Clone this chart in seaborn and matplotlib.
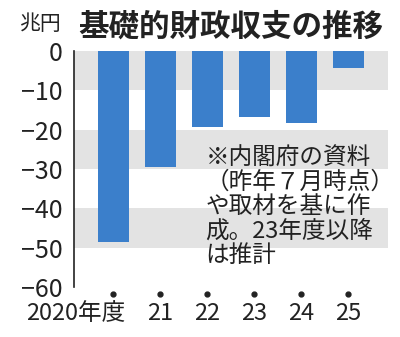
import matplotlib
matplotlib.use("Agg")
import matplotlib.pyplot as plt
import matplotlib.transforms as mtransforms
import seaborn as sns
import pandas as pd

# Primary balance (trillion yen), FY2020-2025
years = ["2020", "2021", "2022", "2023", "2024", "2025"]
balance = [-48.6, -29.6, -19.4, -16.7, -18.2, -4.3]
xlabels = ["2020年度", "21", "22", "23", "24", "25"]
yticks = [0, -10, -20, -30, -40, -50, -60]
ylabels = ["0", "−10", "−20", "−30", "−40", "−50", "−60"]
title = "基礎的財政収支の推移"
unit = "兆円"
note = "※内閣府の資料\n（昨年７月時点）\nや取材を基に作\n成。23年度以降\nは推計"

sns.set_style("white")
plt.rcParams["font.family"] = ["Noto Sans CJK JP", "DejaVu Sans"]
ink = "#222222"

df = pd.DataFrame({"year": years, "balance": balance})

fig = plt.figure(figsize=(4.0, 3.37), dpi=100)
ax = fig.add_axes([0.185, 0.148, 0.785, 0.701])

# alternating horizontal bands
for k in range(6):
    if k % 2 == 0:
        ax.axhspan(-10 * (k + 1), -10 * k, color="#e3e3e3", zorder=0, lw=0)

sns.barplot(data=df, x="year", y="balance", color="#3b7fcb", saturation=1,
            width=0.66, ax=ax, zorder=2, linewidth=0, edgecolor="none")

ax.set_xlim(-0.83, 5.85)
ax.set_ylim(-60, 0)
ax.set_xlabel("")
ax.set_ylabel("")

for s in ["top", "right", "bottom"]:
    ax.spines[s].set_visible(False)
ax.spines["left"].set_color(ink)
ax.spines["left"].set_linewidth(1.2)

ax.set_yticks(yticks)
ax.set_yticklabels(ylabels, fontsize=18, color=ink)
ax.tick_params(axis="y", direction="out", length=5, width=1.2, color=ink, pad=3)
ax.set_xticks([])

# category dots and labels below the plot
blend = mtransforms.blended_transform_factory(ax.transData, ax.transAxes)
xs = list(range(len(years)))
ax.plot(xs, [-0.03] * len(xs), "o", ms=3.5, color=ink, transform=blend,
        clip_on=False)
for i, lab in enumerate(xlabels):
    if i == 0:
        ax.text(i + 0.27, -0.11, lab, transform=blend, ha="right", va="center",
                fontsize=17, color=ink)
    else:
        ax.text(i, -0.11, lab, transform=blend, ha="center", va="center",
                fontsize=17, color=ink)

fig.text(0.195, 0.92, title, fontsize=22, fontweight="bold", color=ink,
         ha="left", va="center")
fig.text(0.048, 0.93, unit, fontsize=15, color=ink, ha="left", va="center")

ax.text(1.97, -24.3, note, fontsize=17, color=ink, ha="left", va="top",
        linespacing=1.08, zorder=3)

fig.savefig("out.png", dpi=100)
